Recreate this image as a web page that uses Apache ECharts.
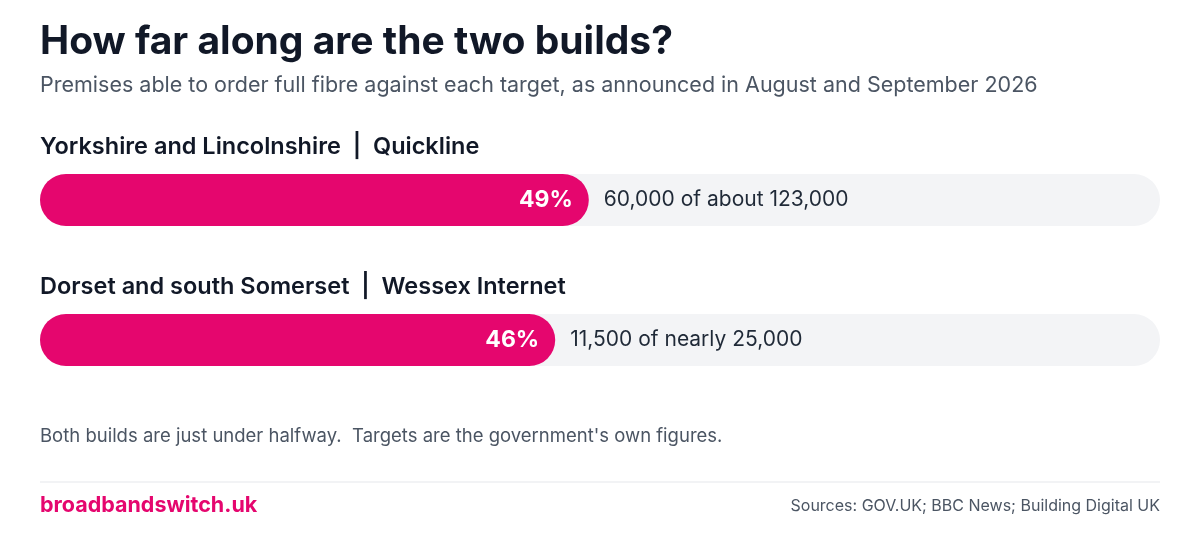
<!DOCTYPE html>
<html><head><meta charset="utf-8">
<script src="https://cdn.jsdelivr.net/npm/echarts@6/dist/echarts.min.js"></script>
<style>html,body{margin:0;background:#fff}#c{width:1200px;height:540px}</style>
</head><body><div id="c"></div>
<script>
const regions = ["Yorkshire and Lincolnshire  |  Quickline", "Dorset and south Somerset  |  Wessex Internet"];
const percents = [49, 46];
const notes = ["60,000 of about 123,000", "11,500 of nearly 25,000"];
const FONT = "Inter, 'Noto Sans', sans-serif";
const PINK = "#E5066E";
const chart = echarts.init(document.getElementById('c'));
const tops = [174, 314];
const grids = tops.map(t => ({left: 40, width: 1120, top: t, height: 52}));
const xAxes = tops.map((t, i) => ({gridIndex: i, type: 'value', min: 0, max: 100, show: false}));
const yAxes = tops.map((t, i) => ({gridIndex: i, type: 'category', data: [regions[i]], show: false}));
const series = [];
percents.forEach((p, i) => {
  series.push({
    type: 'bar', xAxisIndex: i, yAxisIndex: i, data: [p], barWidth: 52,
    showBackground: true,
    backgroundStyle: {color: '#F3F4F6', borderRadius: 26},
    itemStyle: {color: PINK, borderRadius: 26},
    label: {show: true, position: 'insideRight', distance: 16, formatter: p + '%',
      color: '#fff', fontFamily: FONT, fontWeight: 'bold', fontSize: 23},
    silent: true
  });
  series.push({
    type: 'bar', xAxisIndex: i, yAxisIndex: i, data: [p], barWidth: 52, barGap: '-100%',
    itemStyle: {color: 'transparent'},
    label: {show: true, position: 'right', distance: 15, formatter: notes[i],
      color: '#1F2937', fontFamily: FONT, fontSize: 21},
    silent: true
  });
});
const graphic = [
  {type: 'text', left: 40, top: 23, style: {text: 'How far along are the two builds?', font: 'bold 39px ' + FONT, fill: '#111827'}},
  {type: 'text', left: 40, top: 75, style: {text: 'Premises able to order full fibre against each target, as announced in August and September 2026', font: '21.5px ' + FONT, fill: '#4B5563'}},
  {type: 'text', left: 40, top: 135, style: {text: regions[0], font: '600 23.5px ' + FONT, fill: '#111827'}},
  {type: 'text', left: 40, top: 275, style: {text: regions[1], font: '600 23.5px ' + FONT, fill: '#111827'}},
  {type: 'text', left: 40, top: 427, style: {text: "Both builds are just under halfway.  Targets are the government's own figures.", font: '18.5px ' + FONT, fill: '#4B5563'}},
  {type: 'line', shape: {x1: 40, y1: 482, x2: 1160, y2: 482}, style: {stroke: '#E5E7EB', lineWidth: 1}},
  {type: 'text', left: 40, top: 495, style: {text: 'broadbandswitch.uk', font: 'bold 21.5px ' + FONT, fill: PINK}},
  {type: 'text', right: 40, top: 498, style: {text: 'Sources: GOV.UK; BBC News; Building Digital UK', font: '16px ' + FONT, fill: '#4B5563'}}
];
chart.setOption({animation: false, grid: grids, xAxis: xAxes, yAxis: yAxes, series, graphic});
</script></body></html>
